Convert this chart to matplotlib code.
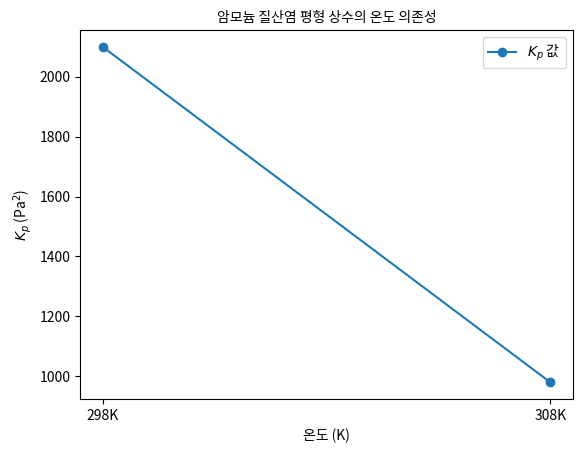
import matplotlib
matplotlib.use("Agg")
import matplotlib.pyplot as plt

plt.rcParams['font.family'] = ['Noto Sans CJK KR', 'DejaVu Sans']
plt.rcParams['axes.unicode_minus'] = False

temps = ['298K', '308K']
kp = [2100, 980]

fig = plt.figure(figsize=(5.85, 4.54), dpi=100)
ax = fig.add_axes([0.137, 0.121, 0.842, 0.813])
ax.plot(temps, kp, marker='o', label='$K_p$ 값')
ax.set_title('암모늄 질산염 평형 상수의 온도 의존성', fontsize=10)
ax.set_xlabel('온도 (K)', fontsize=10)
ax.set_ylabel('$K_p$ (Pa$^2$)', fontsize=10)
ax.legend()
fig.savefig('out.png')
